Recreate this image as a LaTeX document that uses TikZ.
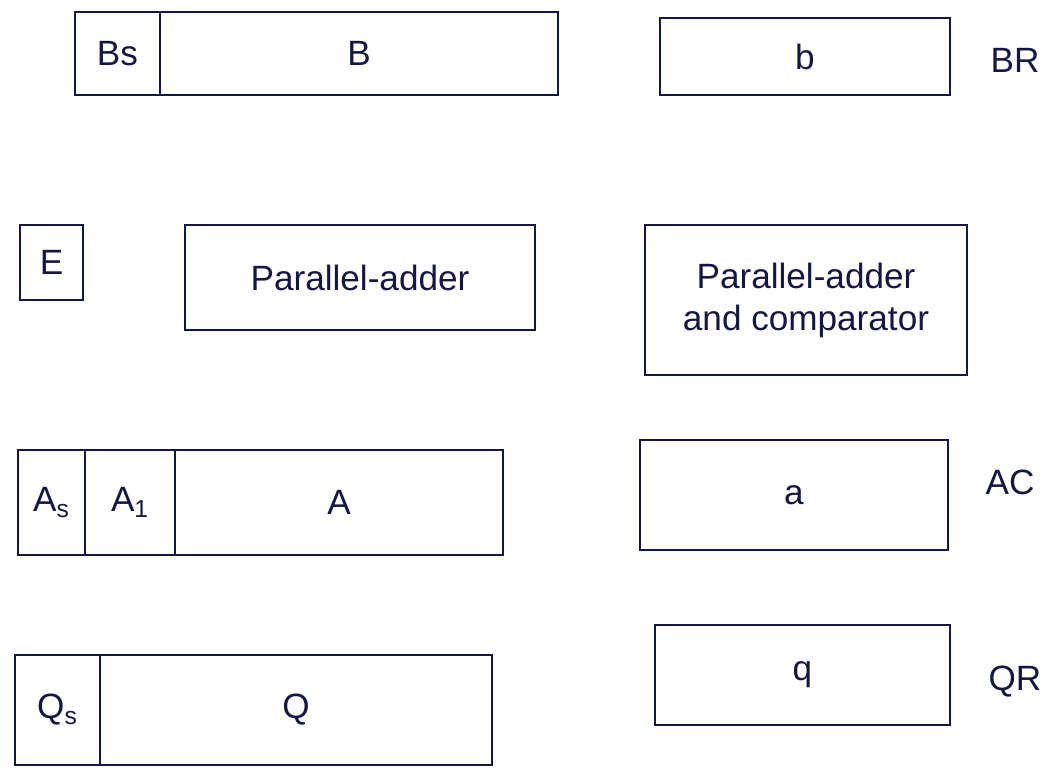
\documentclass[tikz,border=0pt]{standalone}
\usepackage{fontspec}
\setmainfont{Liberation Sans}
\definecolor{ink}{RGB}{20,22,70}
\begin{document}
\begin{tikzpicture}[x=0.02cm,y=-0.02cm,
  reg/.style={draw=ink, line width=1.4pt, rectangle, inner sep=0pt, outer sep=0pt, text=ink, font=\fontsize{20}{24}\selectfont, align=center},
  lbl/.style={text=ink, font=\fontsize{20}{24}\selectfont}]
\useasboundingbox (0,0) rectangle (1055,774);
% row 1
\node[reg, minimum width=1.7cm, minimum height=1.66cm] (Bs) at (117.5,53.5) {Bs};
\node[reg, minimum width=7.96cm, minimum height=1.66cm] (B) at (359,53.5) {B};
\node[reg, minimum width=5.8cm, minimum height=1.54cm] (b) at (805,56.5) {b};
\node[lbl] (BR) at (1015,60) {BR};
% row 2
\node[reg, minimum width=1.26cm, minimum height=1.5cm] (E) at (51.5,262.5) {E};
\node[reg, minimum width=7.0cm, minimum height=2.1cm] (PA) at (360,277.5) {Parallel-adder};
\node[reg, minimum width=6.44cm, minimum height=3.0cm] (PAC) at (806,300) {Parallel-adder\\and comparator};
% row 3
\node[reg, minimum width=1.34cm, minimum height=2.1cm] (As) at (51.5,502.5) {A\textsubscript{s}};
\node[reg, minimum width=1.8cm, minimum height=2.1cm] (A1) at (130,502.5) {A\textsubscript{1}};
\node[reg, minimum width=6.56cm, minimum height=2.1cm] (A) at (339,502.5) {A};
\node[reg, minimum width=6.16cm, minimum height=2.2cm] (a) at (794,495) {a};
\node[lbl] (AC) at (1010,482) {AC};
% row 4
\node[reg, minimum width=1.7cm, minimum height=2.2cm] (Qs) at (57.5,710) {Q\textsubscript{s}};
\node[reg, minimum width=7.84cm, minimum height=2.2cm] (Q) at (296,710) {Q};
\node[reg, minimum width=5.9cm, minimum height=2.0cm] (q) at (802.5,675) {q};
\node[lbl] (QR) at (1015,682) {QR};
\end{tikzpicture}
\end{document}
